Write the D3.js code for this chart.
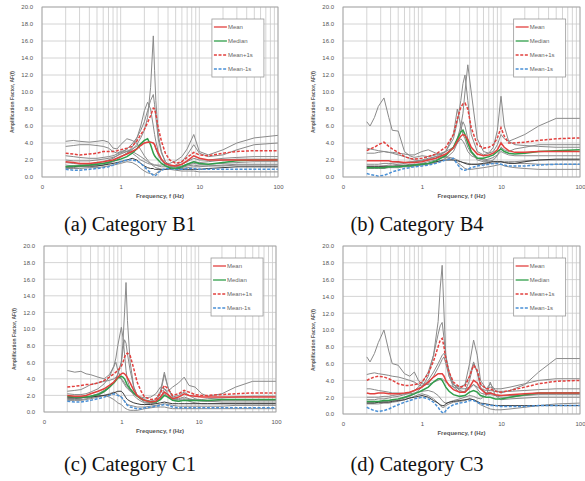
<!DOCTYPE html>
<html>
<head>
<meta charset="utf-8">
<script src="https://cdn.jsdelivr.net/npm/d3@7"></script>
<style>
body { margin: 0; background: #fff; }
svg { display: block; }
</style>
</head>
<body>
<svg id="fig" width="585" height="481"></svg>
<script>
// tick labels
const xTicks = [0.1, 1, 10, 100];
const xTickLabels = ['0', '1', '10', '100'];
const yTicks = [0, 2, 4, 6, 8, 10, 12, 14, 16, 18, 20];
const legendLabels = ['Mean', 'Median', 'Mean+1s', 'Mean-1s'];
const captions = ['(a) Category B1', '(b) Category B4', '(c) Category C1', '(d) Category C3'];

// (a) B1
const freqB1 = [0.2,0.25,0.3,0.4,0.5,0.6,0.7,0.8,0.9,1.0,1.2,1.4,1.6,1.8,2.0,2.2,2.4,2.6,2.7,2.8,3.0,3.3,3.7,4.2,5,6,7,8.5,10,13,20,30,50,100];
const meanB1 = [1.8,1.7,1.6,1.6,1.7,1.8,1.9,2.0,2.2,2.4,2.7,3.0,3.3,3.7,4.0,4.1,4.1,4.0,3.8,3.4,2.8,2.1,1.6,1.4,1.3,1.5,1.9,2.5,2.2,2.0,2.0,2.0,2.0,2.0];
const medianB1 = [1.2,1.3,1.3,1.4,1.5,1.6,1.7,1.9,2.0,2.1,2.4,2.8,3.3,3.9,4.3,4.5,3.8,2.8,2.5,2.3,2.0,1.6,1.3,1.1,1.0,1.2,1.5,1.8,1.6,1.5,1.7,1.9,2.0,2.0];
const plusB1 = [2.8,2.7,2.6,2.7,2.8,3.0,3.0,3.0,3.1,3.2,3.4,3.6,4.2,5.0,5.6,6.4,7.2,8.1,8.0,7.4,5.8,4.2,2.8,2.0,1.6,1.8,2.3,2.9,2.6,2.5,2.8,3.0,3.1,3.1];
const minusB1 = [0.9,0.8,0.8,0.9,1.0,1.1,1.2,1.4,1.6,1.8,2.0,2.0,1.9,1.6,1.2,0.8,0.5,0.2,0.1,0.2,0.5,0.8,1.0,1.0,0.9,0.9,1.0,1.0,0.9,0.9,0.9,0.9,0.9,0.9];
const recordsB1 = [
    [1.4,1.3,1.3,1.4,1.5,1.6,1.8,2.0,2.2,2.4,2.8,3.2,3.8,4.6,5.5,7.0,10.5,16.6,12.5,9.0,5.0,3.0,1.8,1.4,1.2,1.3,1.5,1.8,1.7,1.8,2.0,2.1,2.1,2.1],
    [1.7,1.6,1.5,1.5,1.6,1.8,2.0,2.2,2.5,2.8,3.3,3.9,4.6,5.5,6.5,7.8,9.0,9.7,8.5,7.0,4.5,2.8,1.8,1.3,1.1,1.2,1.4,1.6,1.5,1.5,1.6,1.7,1.8,1.8],
    [1.1,1.1,1.2,1.2,1.3,1.4,1.6,1.8,2.0,2.3,2.8,3.5,4.5,6.0,7.8,8.8,8.0,6.0,5.0,4.2,3.0,2.0,1.4,1.1,1.0,1.1,1.3,1.4,1.3,1.3,1.4,1.5,1.5,1.5],
    [4.2,4.3,4.2,4.1,4.2,4.3,4.1,3.4,3.3,3.8,4.5,4.3,4.0,3.2,2.5,2.0,1.6,1.3,1.2,1.1,1.0,0.9,0.9,0.9,1.0,1.0,1.1,1.2,1.2,1.3,1.3,1.4,1.4,1.4],
    [3.6,3.7,3.8,3.8,3.7,3.6,3.4,3.0,2.8,3.0,3.2,3.0,2.7,2.4,2.1,1.8,1.6,1.5,1.4,1.4,1.3,1.2,1.2,1.2,1.4,1.8,2.6,3.8,2.8,2.4,2.6,3.2,3.8,4.0],
    [2.5,2.4,2.3,2.2,2.2,2.3,2.4,2.5,2.7,2.9,3.0,2.8,2.4,2.0,1.8,1.6,1.5,1.4,1.4,1.4,1.4,1.4,1.5,1.6,1.9,2.4,3.3,5.0,3.0,2.6,3.2,4.0,4.6,4.9],
    [1.0,1.0,1.0,1.1,1.1,1.2,1.3,1.4,1.5,1.6,1.8,1.7,1.4,1.0,0.7,0.5,0.4,0.3,0.3,0.4,0.6,0.8,0.9,0.9,0.8,0.7,0.7,0.7,0.6,0.6,0.6,0.6,0.6,0.6],
    [2.0,1.9,1.9,1.9,2.0,2.1,2.2,2.3,2.5,2.7,3.0,3.3,3.6,3.9,4.0,4.1,4.1,4.0,3.8,3.3,2.6,1.9,1.5,1.3,1.3,1.5,1.8,2.2,2.0,2.0,2.2,2.3,2.4,2.4],
    [1.2,1.2,1.3,1.3,1.3,1.4,1.5,1.6,1.7,1.8,2.0,2.2,2.0,1.6,1.3,1.1,1.0,1.0,0.9,0.9,0.9,0.9,0.9,1.0,1.0,0.9,0.9,0.9,0.9,1.0,1.1,1.2,1.2,1.2]
];

// (b) B4
const freqB4 = [0.2,0.22,0.25,0.28,0.33,0.38,0.42,0.5,0.6,0.7,0.8,1.0,1.2,1.5,2.0,2.5,2.8,3.1,3.3,3.5,3.8,4.2,5,6,7,8,9,10,11,12.5,15,20,30,50,100];
const meanB4 = [1.9,1.9,1.9,1.9,1.9,1.9,1.8,1.8,1.7,1.7,1.7,1.8,2.0,2.2,2.7,3.4,4.2,4.8,5.0,4.9,4.4,3.5,2.7,2.5,2.6,2.8,3.2,4.0,3.5,3.1,2.9,2.9,3.0,3.0,3.0];
const medianB4 = [1.1,1.1,1.1,1.1,1.1,1.2,1.2,1.2,1.3,1.3,1.4,1.5,1.6,1.9,2.5,3.5,4.5,5.3,5.5,5.0,4.0,3.0,2.2,2.2,2.4,2.6,3.0,3.3,3.0,2.8,2.7,2.8,3.0,3.1,3.2];
const plusB4 = [3.1,3.3,3.5,3.8,4.1,3.6,3.3,2.9,2.4,2.2,2.1,2.2,2.4,2.7,3.5,5.0,6.8,8.2,8.6,8.7,8.0,5.8,3.8,3.4,3.5,3.8,4.6,5.8,4.8,4.0,4.0,4.1,4.3,4.5,4.6];
const minusB4 = [0.4,0.3,0.2,0.1,0.2,0.4,0.6,0.8,1.0,1.1,1.2,1.3,1.4,1.6,2.0,2.2,1.5,1.0,0.8,0.8,0.9,1.1,1.3,1.4,1.5,1.6,1.6,1.5,1.4,1.3,1.3,1.3,1.4,1.5,1.5];
const recordsB4 = [
    [6.5,6.0,7.0,8.3,9.3,7.0,5.5,5.4,3.0,2.5,2.3,2.5,2.4,2.6,3.0,3.5,4.0,4.5,4.2,3.8,3.0,2.5,2.2,2.0,1.9,1.8,1.8,1.8,1.7,1.7,1.6,1.6,1.5,1.5,1.5],
    [1.2,1.2,1.2,1.2,1.3,1.3,1.3,1.4,1.4,1.5,1.5,1.6,1.8,2.0,2.6,3.5,4.5,6.0,7.5,10.0,13.2,10.0,4.5,3.0,2.8,3.0,3.8,5.0,4.5,4.2,4.5,5.0,6.0,6.9,6.9],
    [1.5,1.5,1.5,1.5,1.6,1.6,1.6,1.7,1.7,1.8,1.8,1.9,2.1,2.4,3.0,4.5,6.5,9.0,11.0,12.0,9.0,5.0,3.0,2.6,2.8,3.5,5.5,9.5,6.0,4.2,3.8,3.7,3.6,3.5,3.5],
    [3.4,3.3,3.2,3.1,3.0,2.9,2.8,2.6,2.4,2.2,2.0,1.9,2.0,2.2,3.0,5.0,8.0,6.0,5.0,4.5,3.5,2.8,2.2,2.0,2.1,2.3,2.6,3.0,2.8,2.6,2.5,2.5,2.5,2.5,2.5],
    [1.0,1.0,1.0,1.0,1.0,1.1,1.1,1.1,1.2,1.2,1.3,1.4,1.5,1.7,2.2,3.0,4.0,5.5,6.5,6.0,4.5,3.0,2.0,1.8,1.8,2.0,2.5,3.5,3.2,3.0,3.3,3.5,3.8,3.8,3.8],
    [1.3,1.3,1.3,1.3,1.3,1.4,1.4,1.5,1.6,1.7,1.8,2.0,2.2,2.4,2.3,2.0,1.7,1.4,1.2,1.0,0.9,0.9,1.0,1.1,1.2,1.3,1.4,1.5,1.3,1.2,1.1,1.0,0.9,0.9,0.9],
    [2.8,2.8,2.8,2.9,3.0,2.9,2.9,2.8,2.7,2.6,2.6,3.0,3.2,2.8,2.4,2.2,2.0,1.8,1.7,1.7,1.6,1.5,1.5,1.5,1.6,1.6,1.7,1.8,1.8,1.8,1.8,1.9,2.0,2.0,2.0],
    [1.2,1.2,1.2,1.2,1.2,1.2,1.2,1.3,1.3,1.4,1.4,1.5,1.6,1.8,2.0,2.0,1.9,1.8,1.7,1.6,1.5,1.5,1.5,1.6,1.7,1.8,1.8,1.8,1.7,1.6,1.6,1.8,2.0,2.1,2.1]
];

// (c) C1
const freqC1 = [0.2,0.25,0.3,0.35,0.4,0.5,0.6,0.7,0.8,0.85,0.9,1.0,1.05,1.1,1.15,1.2,1.3,1.45,1.6,1.8,2.0,2.4,2.8,3.2,3.6,4.0,4.6,5.5,6.5,7.5,9,11,13,20,30,50,100];
const meanC1 = [2.0,1.9,1.9,2.0,2.2,2.5,2.8,3.2,3.6,3.9,4.2,4.6,4.7,4.6,4.4,4.1,3.5,2.6,2.0,1.6,1.4,1.2,1.3,1.8,2.4,2.1,1.6,1.8,2.2,2.0,1.9,1.8,1.8,1.8,1.8,1.8,1.8];
const medianC1 = [1.9,1.8,1.8,1.8,1.9,2.1,2.5,3.0,3.5,3.8,4.1,4.3,4.2,4.0,3.6,3.2,2.8,2.3,1.9,1.6,1.4,1.2,1.2,1.5,2.0,1.8,1.4,1.3,1.4,1.4,1.4,1.4,1.4,1.5,1.5,1.5,1.5];
const plusC1 = [3.0,3.1,3.2,3.3,3.3,3.5,3.8,4.2,4.6,4.8,5.0,5.5,6.0,6.6,7.0,7.1,6.8,5.2,3.6,2.5,1.8,1.5,1.6,2.3,3.2,2.8,2.0,2.2,2.6,2.4,2.1,2.0,2.0,2.1,2.2,2.3,2.3];
const minusC1 = [1.3,1.2,1.2,1.3,1.4,1.6,1.8,2.0,2.2,2.1,2.0,1.8,1.6,1.3,1.0,0.8,0.6,0.5,0.4,0.4,0.5,0.6,0.7,0.8,0.9,0.8,0.6,0.5,0.5,0.5,0.5,0.5,0.5,0.5,0.5,0.5,0.5];
const recordsC1 = [
    [1.8,1.7,1.7,1.8,1.9,2.2,2.6,3.0,3.6,4.0,4.5,6.0,8.5,12.0,15.6,11.0,6.0,3.0,2.0,1.5,1.2,1.1,1.3,2.2,4.5,3.0,1.8,2.0,2.4,2.0,1.6,1.4,1.3,1.2,1.2,1.2,1.2],
    [2.2,2.1,2.1,2.2,2.4,2.8,3.4,4.2,5.5,6.5,8.0,10.2,9.0,7.0,5.0,3.8,2.8,2.0,1.6,1.3,1.1,1.0,1.1,1.6,2.8,2.2,1.4,1.3,1.5,1.3,1.1,1.0,1.0,1.0,1.0,1.0,1.0],
    [1.5,1.5,1.5,1.6,1.7,2.0,2.4,2.9,3.5,4.0,4.6,6.0,7.5,8.7,8.3,7.0,5.0,3.0,2.0,1.6,1.4,1.3,1.5,2.5,4.8,3.0,1.7,1.6,1.8,1.6,1.4,1.3,1.3,1.4,1.4,1.4,1.4],
    [5.0,4.8,4.9,4.6,4.5,4.2,4.0,4.5,5.5,6.0,5.0,4.0,3.6,3.3,3.0,2.8,2.5,2.2,2.0,1.8,1.7,1.8,2.2,3.0,2.8,2.5,3.0,3.5,4.2,3.2,3.0,2.2,1.9,2.2,3.0,3.7,3.7],
    [1.4,1.4,1.4,1.5,1.6,1.8,2.0,2.2,2.4,2.3,2.1,1.8,1.5,1.3,1.1,0.9,0.8,0.7,0.6,0.6,0.6,0.7,0.8,0.9,1.0,0.9,0.8,0.7,0.7,0.7,0.7,0.7,0.7,0.7,0.8,0.8,0.8],
    [1.6,1.6,1.7,1.8,1.9,2.0,2.0,1.8,1.5,1.3,1.1,0.9,0.7,0.5,0.4,0.3,0.2,0.2,0.2,0.3,0.4,0.5,0.6,0.6,0.6,0.5,0.4,0.4,0.4,0.4,0.4,0.4,0.4,0.4,0.4,0.4,0.4],
    [2.5,2.6,2.7,3.0,3.3,3.5,3.7,3.8,4.0,4.2,4.2,4.0,3.8,3.5,3.2,3.0,2.6,2.2,1.9,1.7,1.5,1.3,1.3,1.6,2.2,1.9,1.5,1.5,1.6,1.5,1.5,1.5,1.6,1.7,1.8,1.9,1.9],
    [1.7,1.7,1.7,1.8,1.8,1.9,2.0,2.1,2.3,2.4,2.5,2.5,2.3,2.0,1.7,1.5,1.3,1.1,1.0,0.9,0.9,0.9,1.0,1.1,1.2,1.1,1.0,1.0,1.0,1.0,1.0,1.0,1.0,1.0,1.0,1.0,1.0]
];

// (d) C3
const freqC3 = [0.2,0.22,0.25,0.28,0.33,0.38,0.42,0.5,0.6,0.7,0.8,0.9,1.0,1.2,1.4,1.6,1.7,1.8,1.9,2.0,2.2,2.5,3.0,3.5,4.0,4.5,5.0,5.5,6.5,7.3,8.5,10,13,20,30,50,100];
const meanC3 = [2.5,2.4,2.4,2.5,2.5,2.4,2.4,2.4,2.5,2.6,2.8,3.0,3.2,3.8,4.4,4.8,4.8,4.8,4.5,4.0,3.4,2.9,2.6,2.6,3.2,4.0,3.7,3.0,2.4,2.5,2.3,2.2,2.3,2.4,2.5,2.5,2.5];
const medianC3 = [1.5,1.5,1.5,1.5,1.6,1.6,1.7,1.8,2.0,2.2,2.4,2.6,2.8,3.2,3.8,4.2,4.2,4.0,3.6,3.2,2.7,2.3,2.1,2.2,2.6,2.8,2.6,2.2,2.0,2.0,1.8,1.8,2.0,2.3,2.5,2.5,2.5];
const plusC3 = [4.0,4.2,4.4,4.5,4.4,4.2,4.0,3.6,3.4,3.4,3.5,3.6,3.8,4.8,6.3,8.0,8.8,9.0,8.0,6.5,5.0,3.8,3.2,3.3,4.5,5.8,5.2,3.6,3.0,3.0,2.7,2.6,2.8,3.2,3.6,3.9,4.0];
const minusC3 = [0.8,0.6,0.4,0.3,0.4,0.6,0.8,1.1,1.4,1.6,1.8,1.9,2.0,1.8,1.4,0.8,0.4,0.2,0.1,0.4,0.8,1.1,1.3,1.4,1.6,1.6,1.4,1.2,1.1,1.0,1.0,0.9,0.9,0.9,1.0,1.0,1.0];
const recordsC3 = [
    [6.8,6.2,7.2,8.5,10.0,7.5,6.0,5.8,4.8,4.5,5.0,4.0,3.6,3.5,3.8,4.0,4.2,4.2,4.0,3.8,3.5,3.2,3.0,3.0,3.2,3.5,3.2,3.0,2.8,2.8,2.7,2.7,2.7,2.8,2.9,3.0,3.0],
    [1.4,1.4,1.4,1.4,1.5,1.5,1.6,1.7,1.9,2.1,2.4,2.8,3.2,4.5,7.0,11.0,15.0,17.7,12.0,7.0,4.5,3.2,2.6,2.7,4.0,6.0,5.0,3.2,2.5,2.6,2.2,2.0,2.0,2.2,2.4,2.5,2.5],
    [1.7,1.7,1.7,1.8,1.8,1.9,2.0,2.1,2.3,2.5,2.8,3.2,3.7,5.0,7.0,9.5,10.5,10.9,9.0,7.0,5.0,3.5,3.0,3.5,6.0,8.8,7.0,4.0,3.0,3.6,2.8,2.5,2.8,3.5,5.0,6.6,6.6],
    [4.7,4.8,4.9,4.8,4.7,4.6,4.5,4.4,4.2,4.0,3.8,3.5,3.3,3.6,4.5,5.5,6.0,6.5,6.8,6.0,4.5,3.5,3.2,3.5,4.5,6.2,5.0,3.5,3.0,3.2,3.0,3.0,3.2,3.6,4.0,4.2,4.2],
    [3.0,3.0,2.9,2.8,2.7,2.6,2.5,2.5,2.4,2.4,2.5,2.6,2.7,2.8,2.6,2.2,1.9,1.6,1.4,1.3,1.4,1.6,1.8,2.0,2.2,2.1,1.9,1.8,2.2,3.8,2.2,1.7,1.8,1.9,2.0,2.0,2.0],
    [1.2,1.2,1.2,1.2,1.3,1.3,1.4,1.5,1.7,1.9,2.1,2.3,2.4,2.2,1.8,1.3,1.0,0.8,0.8,1.0,1.2,1.4,1.5,1.6,1.8,1.7,1.4,1.1,0.8,0.6,0.5,0.5,0.6,0.8,1.0,1.2,1.3],
    [2.0,2.0,2.0,2.0,2.1,2.1,2.2,2.3,2.4,2.6,2.8,3.0,3.3,4.0,5.0,6.0,6.5,7.0,7.2,6.8,5.0,3.5,2.8,2.6,3.0,3.5,3.0,2.5,2.3,2.3,2.2,2.2,2.2,2.2,2.3,2.3,2.3],
    [1.3,1.3,1.3,1.4,1.4,1.4,1.5,1.6,1.7,1.9,2.0,2.1,2.2,2.0,1.6,1.3,1.1,1.0,1.0,1.2,1.4,1.5,1.6,1.7,1.8,1.7,1.5,1.3,1.2,1.1,1.0,1.0,1.0,1.0,1.0,1.0,1.0]
];

//面板位置
const panels = [
    { freq: freqB1, mean: meanB1, median: medianB1, plus: plusB1, minus: minusB1, records: recordsB1,
      left: 42, right: 278, top: 7, bottom: 177, capX: 130, capY: 231 },
    { freq: freqB4, mean: meanB4, median: medianB4, plus: plusB4, minus: minusB4, records: recordsB4,
      left: 343, right: 580, top: 7, bottom: 177, capX: 417, capY: 231 },
    { freq: freqC1, mean: meanC1, median: medianC1, plus: plusC1, minus: minusC1, records: recordsC1,
      left: 44, right: 276, top: 246, bottom: 412, capX: 130, capY: 471 },
    { freq: freqC3, mean: meanC3, median: medianC3, plus: plusC3, minus: minusC3, records: recordsC3,
      left: 343, right: 580, top: 246, bottom: 414, capX: 417, capY: 471 }
];

const red = '#e2403e', green = '#2f9e4a', blue = '#4a90d6';
const statStyles = [
    { key: 'minus', color: blue, dash: '3,1.6' },
    { key: 'median', color: green, dash: null },
    { key: 'plus', color: red, dash: '3,1.6' },
    { key: 'mean', color: red, dash: null }
];
const legendStyles = [
    { color: red, dash: null },
    { color: green, dash: null },
    { color: red, dash: '3,1.6' },
    { color: blue, dash: '3,1.6' }
];

const svg = d3.select('#fig');

function drawPanel(p, i) {
    const x = d3.scaleLog().domain([0.1, 100]).range([p.left, p.right]);
    const y = d3.scaleLinear().domain([0, 20]).range([p.bottom, p.top]);
    const g = svg.append('g');

    // 格線
    g.append('g').selectAll('line').data(x.ticks()).join('line')
        .attr('x1', d => x(d)).attr('x2', d => x(d))
        .attr('y1', p.top).attr('y2', p.bottom)
        .style('stroke', '#c9c9c9').style('stroke-width', 0.8);
    g.append('g').selectAll('line').data(yTicks).join('line')
        .attr('x1', p.left).attr('x2', p.right)
        .attr('y1', d => y(d)).attr('y2', d => y(d))
        .style('stroke', '#c9c9c9').style('stroke-width', 0.8);

    svg.append('clipPath').attr('id', 'clip' + i)
        .append('rect').attr('x', p.left).attr('y', p.top)
        .attr('width', p.right - p.left).attr('height', p.bottom - p.top);

    const lines = g.append('g').attr('clip-path', `url(#clip${i})`);
    const line = vals => d3.line()
        .x((d, j) => x(p.freq[j]))
        .y(d => y(d))(vals);

    lines.selectAll('.rec').data(p.records).join('path').attr('class', 'rec')
        .attr('d', d => line(d))
        .style('fill', 'none')
        .style('stroke', (d, j) => j === p.records.length - 1 ? '#3a3a3a' : '#8a8a8a')
        .style('stroke-width', 1);

    statStyles.forEach(s => {
        lines.append('path').attr('d', line(p[s.key]))
            .style('fill', 'none').style('stroke', s.color)
            .style('stroke-width', 1.5)
            .style('stroke-dasharray', s.dash);
    });

    g.append('rect').attr('x', p.left).attr('y', p.top)
        .attr('width', p.right - p.left).attr('height', p.bottom - p.top)
        .style('fill', 'none').style('stroke', '#a0a0a0').style('stroke-width', 0.8);

    // 軸
    const yAxis = d3.axisLeft(y).tickValues(yTicks).tickFormat(d3.format('.1f'))
        .tickSize(0).tickPadding(9);
    const yAxisDraw = g.append('g').attr('transform', `translate(${p.left},0)`).call(yAxis);
    const xAxis = d3.axisBottom(x).tickValues(xTicks).tickFormat((d, j) => xTickLabels[j])
        .tickSize(0).tickPadding(8);
    const xAxisDraw = g.append('g').attr('transform', `translate(0,${p.bottom})`).call(xAxis);
    [yAxisDraw, xAxisDraw].forEach(a => {
        a.select('.domain').remove();
        a.selectAll('text').style('font-family', 'Liberation Sans, Arial, sans-serif')
            .style('font-size', '6px').style('fill', '#555');
    });

    g.append('text').text('Frequency, f (Hz)')
        .attr('x', (p.left + p.right) / 2).attr('y', p.bottom + 21)
        .attr('text-anchor', 'middle')
        .style('font-family', 'Liberation Sans, Arial, sans-serif')
        .style('font-size', '6px').style('font-weight', 'bold').style('fill', '#555');

    const cy = (p.top + p.bottom) / 2 + 10;
    g.append('text').text('Amplification Factor, AF(f)')
        .attr('transform', `translate(${p.left - 28},${cy}) rotate(-90)`)
        .attr('text-anchor', 'middle')
        .attr('textLength', 62).attr('lengthAdjust', 'spacingAndGlyphs')
        .style('font-family', 'Liberation Sans, Arial, sans-serif')
        .style('font-size', '5.5px').style('font-weight', 'bold').style('fill', '#555');

    // 圖例
    const w = p.right - p.left;
    const lx = p.left + 0.72 * w, ly = p.top + 12;
    const legend = g.append('g').attr('transform', `translate(${lx},${ly})`);
    legend.append('rect').attr('width', 52).attr('height', 58)
        .style('fill', '#fff').style('stroke', '#9a9a9a').style('stroke-width', 0.8);
    legendLabels.forEach((lab, j) => {
        const yy = 8 + j * 14;
        legend.append('line').attr('x1', 2).attr('x2', 15).attr('y1', yy).attr('y2', yy)
            .style('stroke', legendStyles[j].color).style('stroke-width', 1.3)
            .style('stroke-dasharray', legendStyles[j].dash);
        legend.append('text').text(lab).attr('x', 16).attr('y', yy + 2)
            .style('font-family', 'Liberation Sans, Arial, sans-serif')
            .style('font-size', '6px').style('fill', '#666');
    });

    svg.append('text').text(captions[i])
        .attr('x', p.capX).attr('y', p.capY).attr('text-anchor', 'middle')
        .style('font-family', 'Liberation Serif, Times New Roman, serif')
        .style('font-size', '20.5px').style('fill', '#111');
}

panels.forEach(drawPanel);
</script>
</body>
</html>
